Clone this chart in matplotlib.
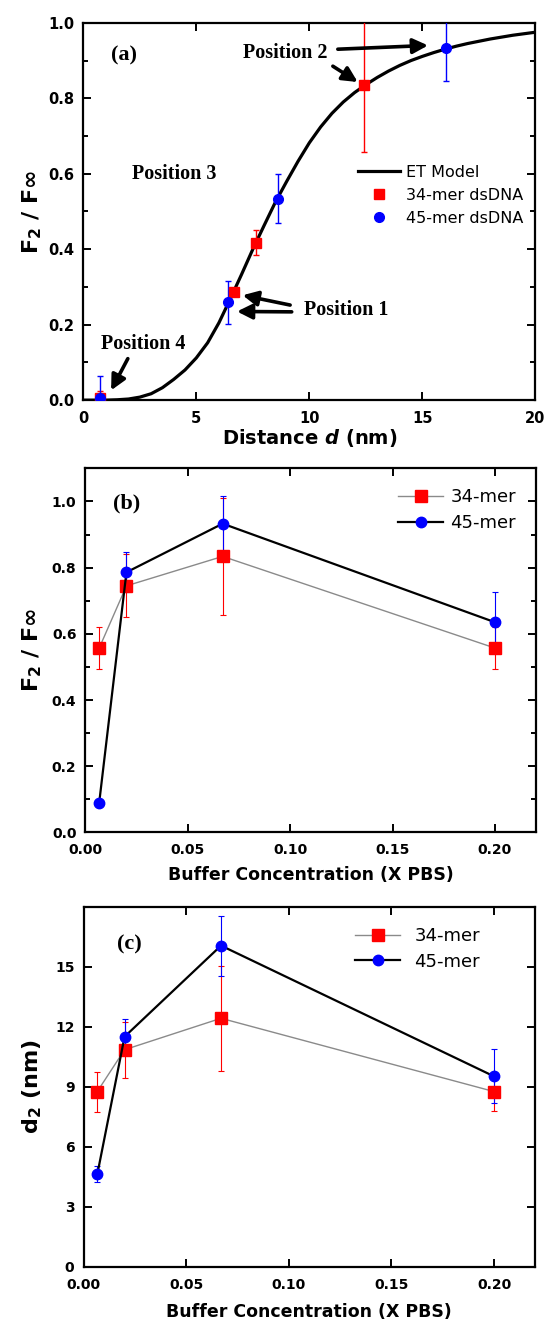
import matplotlib
matplotlib.use('Agg')
import matplotlib.pyplot as plt
from matplotlib.ticker import MultipleLocator

# ET model curve: F2/Finf against distance d (nm)
et_d = [0.0, 1.0, 1.5, 2.0, 2.5, 3.0, 3.5, 4.0, 4.5, 5.0, 5.5, 6.0, 6.5, 7.0,
        7.5, 8.0, 8.5, 9.0, 9.5, 10.0, 10.5, 11.0, 11.5, 12.0, 12.5, 13.0,
        13.5, 14.0, 14.5, 15.0, 15.5, 16.0, 16.5, 17.0, 17.5, 18.0, 18.5,
        19.0, 19.5, 20.0]
et_f = [0.0, 0.0, 0.001, 0.003, 0.008, 0.017, 0.033, 0.055, 0.080, 0.112,
        0.152, 0.205, 0.268, 0.333, 0.400, 0.463, 0.525, 0.580, 0.633, 0.682,
        0.724, 0.760, 0.790, 0.815, 0.836, 0.855, 0.872, 0.887, 0.900, 0.911,
        0.921, 0.930, 0.938, 0.945, 0.951, 0.957, 0.962, 0.967, 0.971, 0.975]

# measured points vs distance
d_34 = [0.75, 6.65, 7.63, 12.43]
f_34 = [0.005, 0.286, 0.417, 0.834]
f_34_err = [0.02, 0.01, 0.033, 0.177]
d_45 = [0.75, 6.42, 8.62, 16.05]
f_45 = [0.005, 0.26, 0.534, 0.932]
f_45_err = [0.06, 0.057, 0.065, 0.085]

# buffer concentration series (X PBS)
conc = [0.0067, 0.02, 0.067, 0.2]
ratio_34 = [0.557, 0.745, 0.834, 0.557]
ratio_34_err = [0.063, 0.095, 0.177, 0.063]
ratio_45 = [0.09, 0.786, 0.933, 0.635]
ratio_45_err = [0.0, 0.06, 0.085, 0.09]
d2_34 = [8.76, 10.85, 12.42, 8.76]
d2_34_err = [1.0, 1.4, 2.63, 0.95]
d2_45 = [4.62, 11.5, 16.05, 9.52]
d2_45_err = [0.4, 0.87, 1.5, 1.35]

plt.rcParams['font.family'] = ['DejaVu Sans']
plt.rcParams['mathtext.fontset'] = 'custom'
plt.rcParams['mathtext.rm'] = 'DejaVu Sans:bold'
plt.rcParams['mathtext.bf'] = 'DejaVu Sans:bold'
plt.rcParams['mathtext.it'] = 'DejaVu Sans:italic:bold'

RED = '#ff0000'
BLUE = '#0000ff'
SERIF = 'Liberation Serif'

fig = plt.figure(figsize=(5.48, 13.25), dpi=100)
ax_a = fig.add_axes([0.152, 0.698, 0.825, 0.2848])
ax_b = fig.add_axes([0.156, 0.3718, 0.822, 0.2747])
ax_c = fig.add_axes([0.1524, 0.0438, 0.824, 0.272])


def style_axes(ax, labelsize):
    for sp in ax.spines.values():
        sp.set_linewidth(1.6)
    ax.tick_params(which='both', direction='in', top=True, right=True, width=1.4)
    ax.tick_params(which='major', length=6, labelsize=labelsize)
    ax.tick_params(which='minor', length=3.5)
    ax.tick_params(axis='x', which='major', pad=8)
    ax.tick_params(axis='y', which='major', pad=6.5)
    for lab in ax.get_xticklabels() + ax.get_yticklabels():
        lab.set_fontweight('bold')


# (a) ratio vs distance
ax_a.plot(et_d, et_f, color='black', lw=2.3, label='ET Model', zorder=2)
ax_a.errorbar(d_34, f_34, yerr=f_34_err, fmt='none', ecolor=RED, elinewidth=1.0,
              capsize=2.5, capthick=1.0, zorder=3)
ax_a.errorbar(d_45, f_45, yerr=f_45_err, fmt='none', ecolor=BLUE, elinewidth=1.0,
              capsize=2.5, capthick=1.0, zorder=3)
ax_a.plot(d_34, f_34, 's', color=RED, ms=7, ls='none', label='34-mer dsDNA', zorder=4)
ax_a.plot(d_45, f_45, 'o', color=BLUE, ms=7, ls='none', label='45-mer dsDNA', zorder=5)
ax_a.set_xlim(0, 20)
ax_a.set_ylim(0, 1.0)
ax_a.xaxis.set_major_locator(MultipleLocator(5))
ax_a.yaxis.set_minor_locator(MultipleLocator(0.1))
ax_a.set_yticks([0.0, 0.2, 0.4, 0.6, 0.8, 1.0])
ax_a.set_yticklabels(['0.0', '0.2', '0.4', '0.6', '0.8', '1.0'])
style_axes(ax_a, 10.5)
ax_a.set_xlabel('Distance $d$ (nm)', fontsize=14, fontweight='bold')
ax_a.xaxis.set_label_coords(0.5, -0.07)
ax_a.set_ylabel(r'$\mathbf{F_2}$ / $\mathbf{F}\infty$', fontsize=16, fontweight='bold')
ax_a.yaxis.set_label_coords(-0.086, 0.5)
ax_a.legend(loc='upper left', bbox_to_anchor=(0.6085, 0.623), frameon=False,
            fontsize=11.5, handlelength=2.6, handletextpad=0.35, labelspacing=0.5,
            borderpad=0, borderaxespad=0)

tkw = dict(fontsize=14.5, fontweight='bold', family=SERIF, va='center')
ax_a.text(1.24, 0.914, '(a)', fontsize=16, fontweight='bold', family=SERIF, va='center')
ax_a.text(7.05, 0.92, 'Position 2', **tkw)
ax_a.text(2.17, 0.60, 'Position 3', **tkw)
ax_a.text(9.77, 0.239, 'Position 1', **tkw)
ax_a.text(0.78, 0.15, 'Position 4', **tkw)

akw = dict(arrowstyle='-|>,head_length=0.6,head_width=0.3', lw=2.6, color='black',
           shrinkA=0, shrinkB=0, mutation_scale=15)
for tail, tip in [((11.26, 0.930), (15.25, 0.940)),
                  ((11.04, 0.885), (12.14, 0.843)),
                  ((9.15, 0.252), (7.05, 0.278)),
                  ((9.22, 0.234), (6.80, 0.235)),
                  ((1.97, 0.110), (1.23, 0.026))]:
    ax_a.annotate('', xy=tip, xytext=tail, arrowprops=akw, zorder=6)


def buffer_panel(ax, y34, e34, y45, e45, ms34, ms45):
    ax.errorbar(conc, y34, yerr=e34, fmt='none', ecolor=RED, elinewidth=0.8,
                capsize=2.5, capthick=0.8, zorder=3)
    ax.errorbar(conc, y45, yerr=e45, fmt='none', ecolor=BLUE, elinewidth=0.8,
                capsize=2.5, capthick=0.8, zorder=3)
    ax.plot(conc, y34, '-s', color='#8a8a8a', lw=1.0, ms=ms34, mfc=RED, mec=RED,
            label='34-mer', zorder=4)
    ax.plot(conc, y45, '-o', color='black', lw=1.6, ms=ms45, mfc=BLUE, mec=BLUE,
            label='45-mer', zorder=5)
    ax.set_xlim(0, 0.22)
    ax.set_xticks([0.0, 0.05, 0.10, 0.15, 0.20])
    ax.set_xticklabels(['0.00', '0.05', '0.10', '0.15', '0.20'])
    ax.set_xlabel('Buffer Concentration (X PBS)', fontsize=12.5, fontweight='bold')


# (b) ratio vs buffer concentration
buffer_panel(ax_b, ratio_34, ratio_34_err, ratio_45, ratio_45_err, 8.5, 7.5)
ax_b.set_ylim(0, 1.1)
ax_b.set_yticks([0.0, 0.2, 0.4, 0.6, 0.8, 1.0])
ax_b.set_yticklabels(['0.0', '0.2', '0.4', '0.6', '0.8', '1.0'])
ax_b.yaxis.set_minor_locator(MultipleLocator(0.1))
style_axes(ax_b, 10)
ax_b.xaxis.set_label_coords(0.5, -0.093)
ax_b.set_ylabel(r'$\mathbf{F_2}$ / $\mathbf{F}\infty$', fontsize=16, fontweight='bold')
ax_b.yaxis.set_label_coords(-0.093, 0.5)
ax_b.text(0.01364, 0.995, '(b)', fontsize=16, fontweight='bold', family=SERIF, va='center')
ax_b.legend(loc='upper left', bbox_to_anchor=(0.694, 0.945), frameon=False,
            fontsize=13, handlelength=2.5, handletextpad=0.4, labelspacing=0.42,
            borderpad=0, borderaxespad=0)

# (c) distance vs buffer concentration
buffer_panel(ax_c, d2_34, d2_34_err, d2_45, d2_45_err, 8.5, 7.5)
ax_c.set_ylim(0, 18)
ax_c.set_yticks([0, 3, 6, 9, 12, 15])
style_axes(ax_c, 10)
ax_c.xaxis.set_label_coords(0.5, -0.099)
ax_c.set_ylabel(r'$\mathbf{d_2}$ (nm)', fontsize=16, fontweight='bold')
ax_c.yaxis.set_label_coords(-0.087, 0.5)
ax_c.text(0.01624, 16.1, '(c)', fontsize=16, fontweight='bold', family=SERIF, va='center')
ax_c.legend(loc='upper left', bbox_to_anchor=(0.602, 0.943), frameon=False,
            fontsize=13, handlelength=2.5, handletextpad=0.77, labelspacing=0.42,
            borderpad=0, borderaxespad=0)

fig.savefig('out.png', dpi=100)
